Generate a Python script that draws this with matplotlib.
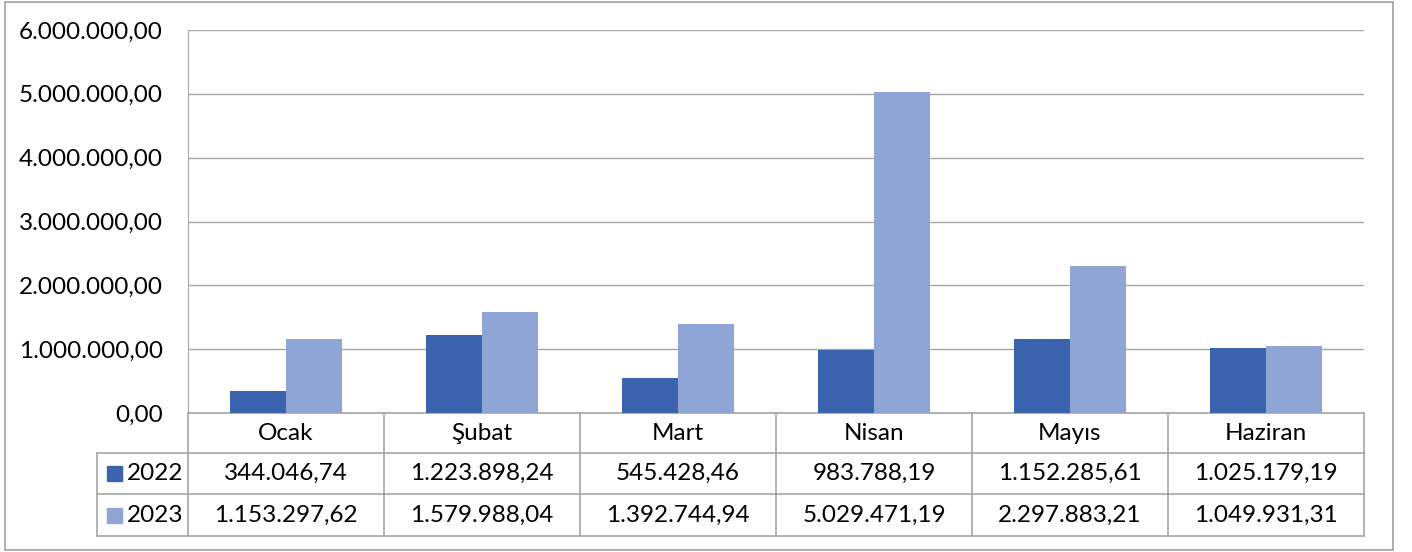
import matplotlib
matplotlib.use('Agg')
from matplotlib import pyplot as plt
from matplotlib.patches import Rectangle

# data
months = ['Ocak', 'Şubat', 'Mart', 'Nisan', 'Mayıs', 'Haziran']
years = ['2022', '2023']
values_2022 = [344046.74, 1223898.24, 545428.46, 983788.19, 1152285.61, 1025179.19]
values_2023 = [1153297.62, 1579988.04, 1392744.94, 5029471.19, 2297883.21, 1049931.31]
y_ticks = [0, 1000000, 2000000, 3000000, 4000000, 5000000, 6000000]

color_2022 = '#3C64AE'
color_2023 = '#8FA5D5'
grid_color = '#A6A6A6'

plt.rcParams['font.family'] = ['Lato', 'DejaVu Sans']
font_size = 17.5

W, H = 1412, 552

# turkish number format: 1.234.567,89
def tr_format(v):
    s = '{:,.2f}'.format(v)
    return s.replace(',', 'X').replace('.', ',').replace('X', '.')

fig = plt.figure(figsize=(W / 100, H / 100), dpi=100)

# overlay axes in pixel coords for frame and table
over = fig.add_axes([0, 0, 1, 1])
over.set_xlim(0, W)
over.set_ylim(H, 0)
over.axis('off')

# plot area in pixels
left, right, top, bottom = 188, 1364, 30, 413
ax = fig.add_axes([left / W, 1 - bottom / H, (right - left) / W, (bottom - top) / H])

n = len(months)
x = list(range(n))
bar_w = 1 / 3.5
ax.bar([i - bar_w / 2 for i in x], values_2022, width=bar_w, color=color_2022, zorder=3)
ax.bar([i + bar_w / 2 for i in x], values_2023, width=bar_w, color=color_2023, zorder=3)

ax.set_xlim(-0.5, n - 0.5)
ax.set_ylim(0, 6000000)
ax.set_yticks(y_ticks)
ax.set_yticklabels([tr_format(t) for t in y_ticks], fontsize=font_size)
ax.tick_params(axis='y', length=0, pad=18)
ax.set_xticks([])
ax.yaxis.grid(True, color=grid_color, linewidth=1.0, zorder=0)
for side in ['top', 'right', 'bottom']:
    ax.spines[side].set_visible(False)
ax.spines['left'].set_color(grid_color)
ax.patch.set_alpha(0)

# outer chart border
over.add_patch(Rectangle((5, 2), 1388, 548, fill=False, edgecolor='#A0A0A0', linewidth=1.2))

# data table below the plot
col_w = (right - left) / n
leg_left = 97
row_y = [413, 453, 494, 536]
line_kw = dict(color=grid_color, linewidth=1.2)

over.plot([left, right], [row_y[0], row_y[0]], **line_kw)
for y in row_y[1:]:
    over.plot([leg_left, right], [y, y], **line_kw)
for i in range(n + 1):
    xx = left + i * col_w
    over.plot([xx, xx], [row_y[0], row_y[3]], **line_kw)
over.plot([leg_left, leg_left], [row_y[1], row_y[3]], **line_kw)

for i, m in enumerate(months):
    cx = left + (i + 0.5) * col_w
    over.text(cx, (row_y[0] + row_y[1]) / 2, m, ha='center', va='center', fontsize=font_size)
    over.text(cx, (row_y[1] + row_y[2]) / 2, tr_format(values_2022[i]), ha='center', va='center', fontsize=font_size)
    over.text(cx, (row_y[2] + row_y[3]) / 2, tr_format(values_2023[i]), ha='center', va='center', fontsize=font_size)

for r, (yr, c) in enumerate(zip(years, [color_2022, color_2023])):
    cy = (row_y[r + 1] + row_y[r + 2]) / 2
    over.add_patch(Rectangle((107, cy - 7.5), 15, 15, color=c))
    over.text(127, cy, yr, ha='left', va='center', fontsize=font_size)

fig.savefig('out.png', dpi=100)
